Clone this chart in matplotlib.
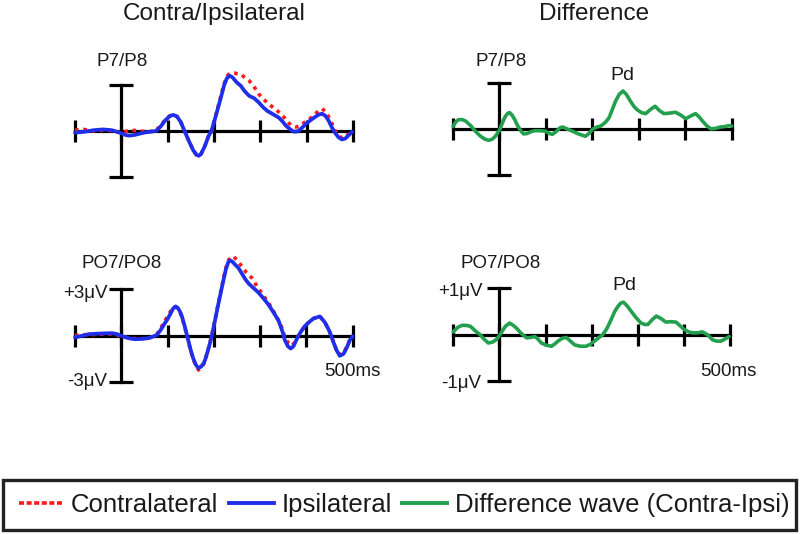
import matplotlib
matplotlib.use("Agg")
import matplotlib.pyplot as plt
from matplotlib.lines import Line2D
from matplotlib.patches import Rectangle

plt.rcParams['font.family'] = ['Liberation Sans', 'DejaVu Sans']

# ---------------- data (ms, microvolts) ----------------
tick_ms = [-100, 0, 100, 200, 300, 400, 500]

# P7/P8 ipsilateral
p7_ipsi_t = [-100, -90, -80, -70, -60, -50, -40, -30, -20, -10, 0, 8, 15, 23, 30, 40, 50, 62, 75, 85, 95,
             105, 112, 120, 128, 135, 145, 155, 162, 167, 172, 180, 188, 195, 205, 215, 222, 228, 234, 240,
             248, 258, 266, 276, 287, 297, 306, 315, 327, 340, 348, 355, 362, 368, 373, 380, 388, 397, 406,
             415, 425, 433, 440, 447, 455, 462, 469, 476, 483, 490, 498]
p7_ipsi_v = [-0.1, -0.08, -0.05, 0.0, 0.05, 0.08, 0.1, 0.08, 0.05, -0.05, -0.15, -0.25, -0.3, -0.28, -0.25,
             -0.17, -0.1, -0.05, 0.0, 0.3, 0.7, 0.98, 1.05, 0.95, 0.6, 0.1, -0.6, -1.25, -1.55, -1.62, -1.5,
             -1.0, -0.35, 0.05, 1.1, 2.2, 3.0, 3.45, 3.6, 3.5, 3.2, 2.94, 2.6, 2.29, 2.13, 1.85, 1.55, 1.31,
             1.1, 0.87, 0.62, 0.35, 0.17, 0.03, -0.05, -0.03, 0.15, 0.42, 0.65, 0.85, 1.05, 1.13, 1.0, 0.7,
             0.2, -0.15, -0.42, -0.55, -0.5, -0.3, -0.05]
# P7/P8 contralateral
p7_contra_t = [-100, -90, -80, -70, -60, -50, -40, -30, -20, -10, 0, 10, 20, 30, 40, 50, 60, 68, 75, 85, 95,
               105, 112, 120, 128, 135, 145, 155, 162, 167, 172, 180, 188, 195, 205, 215, 222, 230, 237, 244,
               252, 258, 266, 276, 285, 297, 306, 315, 324, 333, 345, 355, 362, 369, 377, 385, 395, 405, 415,
               425, 433, 440, 447, 455, 462, 469, 476, 483, 490, 498]
p7_contra_v = [0.05, 0.1, 0.1, 0.05, 0.0, 0.02, 0.05, 0.05, 0.0, -0.05, -0.1, -0.02, 0.05, 0.03, 0.0, -0.03,
               -0.05, 0.0, 0.05, 0.35, 0.75, 1.0, 1.07, 0.95, 0.6, 0.1, -0.6, -1.25, -1.55, -1.62, -1.5, -1.0,
               -0.35, 0.05, 1.15, 2.3, 3.1, 3.65, 3.8, 3.78, 3.72, 3.7, 3.5, 3.27, 2.95, 2.4, 2.1, 1.85, 1.62,
               1.41, 1.1, 0.76, 0.5, 0.33, 0.26, 0.32, 0.55, 0.75, 1.0, 1.3, 1.45, 1.3, 0.95, 0.45, 0.0, -0.3,
               -0.45, -0.42, -0.2, 0.05]
# P7/P8 difference
p7_diff_t = [-100, -94, -88, -80, -73, -62, -52, -42, -32, -23, -15, -8, 0, 6, 12, 18, 22, 27, 33, 38, 45,
             52, 60, 68, 76, 88, 99, 107, 114, 122, 130, 136, 145, 157, 170, 185, 193, 200, 210, 218, 228,
             236, 243, 250, 258, 266, 273, 282, 290, 297, 306, 315, 325, 335, 344, 354, 366, 379, 390, 401,
             412, 422, 430, 437, 446, 455, 465, 476, 486, 494, 500]
p7_diff_v = [0.05, 0.15, 0.2, 0.2, 0.17, 0.07, -0.05, -0.15, -0.22, -0.25, -0.22, -0.15, -0.03, 0.12, 0.26,
             0.34, 0.35, 0.3, 0.2, 0.09, -0.03, -0.11, -0.1, -0.06, -0.04, -0.04, -0.05, -0.1, -0.12, -0.06,
             0.02, 0.04, 0.0, -0.05, -0.11, -0.16, -0.1, -0.01, 0.04, 0.06, 0.14, 0.24, 0.42, 0.6, 0.75,
             0.82, 0.75, 0.6, 0.48, 0.41, 0.35, 0.33, 0.42, 0.49, 0.4, 0.33, 0.34, 0.36, 0.3, 0.22, 0.28,
             0.33, 0.26, 0.17, 0.07, 0.0, 0.01, 0.04, 0.05, 0.07, 0.06]

# PO7/PO8 ipsilateral
po7_ipsi_t = [-100, -85, -70, -50, -35, -20, -10, -2, 10, 20, 30, 45, 59, 68, 77, 85, 92, 99, 106, 112, 117,
              122, 127, 131, 137, 143, 149, 155, 161, 167, 173, 178, 181, 187, 192, 196, 202, 208, 214, 220,
              226, 231, 235, 240, 246, 253, 260, 268, 275, 285, 296, 307, 318, 329, 340, 346, 350, 353, 360,
              366, 372, 378, 386, 396, 405, 415, 429, 440, 450, 458, 465, 472, 480, 487, 494, 500]
po7_ipsi_v = [-0.13, -0.02, 0.09, 0.12, 0.14, 0.15, 0.1, 0.0, -0.12, -0.2, -0.24, -0.22, -0.17, -0.08, 0.04,
              0.35, 0.7, 1.02, 1.4, 1.75, 1.89, 1.8, 1.55, 1.24, 0.6, -0.1, -0.83, -1.45, -1.9, -2.13, -2.0,
              -1.8, -1.59, -1.0, -0.45, 0.04, 0.9, 1.8, 2.65, 3.5, 4.3, 4.75, 4.87, 4.8, 4.6, 4.39, 4.05,
              3.65, 3.38, 3.1, 2.8, 2.42, 2.0, 1.5, 0.95, 0.45, 0.1, -0.28, -0.7, -0.85, -0.7, -0.3, 0.15,
              0.59, 0.85, 1.1, 1.24, 0.85, 0.26, -0.4, -0.95, -1.32, -1.2, -0.8, -0.3, -0.05]
# PO7/PO8 contralateral
po7_contra_t = [-100, -85, -70, -50, -35, -20, -10, -2, 10, 20, 30, 45, 59, 68, 77, 85, 92, 99, 106, 112,
                117, 122, 127, 131, 137, 143, 149, 155, 161, 167, 173, 178, 181, 187, 192, 196, 202, 208, 214,
                220, 226, 232, 238, 242, 250, 260, 270, 282, 292, 303, 314, 325, 334, 343, 348, 353, 360, 368,
                375, 382, 389, 396, 405, 415, 429, 440, 450, 458, 465, 472, 480, 487, 494, 500]
po7_contra_v = [0.0, 0.05, 0.05, 0.08, 0.1, 0.1, 0.05, -0.05, -0.12, -0.18, -0.2, -0.2, -0.2, -0.05, 0.1,
                0.45, 0.85, 1.2, 1.55, 1.8, 1.85, 1.75, 1.5, 1.2, 0.55, -0.15, -0.9, -1.5, -1.95, -2.24,
                -2.1, -1.85, -1.6, -1.0, -0.4, 0.1, 0.95, 1.85, 2.7, 3.6, 4.4, 4.9, 5.1, 5.15, 4.9, 4.5, 4.1,
                3.74, 3.25, 2.77, 2.3, 1.79, 1.3, 0.81, 0.4, -0.06, -0.45, -0.67, -0.45, -0.06, 0.3, 0.59,
                0.85, 1.1, 1.24, 0.85, 0.26, -0.4, -0.95, -1.25, -1.15, -0.75, -0.25, 0.0]
# PO7/PO8 difference
po7_diff_t = [-100, -90, -81, -72, -63, -52, -42, -33, -24, -15, -7, 0, 5, 13, 22, 30, 37, 48, 59, 68, 77,
              84, 91, 102, 113, 120, 127, 136, 145, 154, 163, 175, 188, 197, 206, 215, 224, 233, 242, 250,
              257, 263, 269, 277, 286, 296, 307, 315, 322, 331, 340, 350, 361, 372, 383, 392, 401, 410, 419,
              430, 440, 451, 462, 471, 480, 490, 498]
po7_diff_v = [0.06, 0.16, 0.2, 0.2, 0.18, 0.08, 0.0, -0.1, -0.18, -0.16, -0.11, -0.02, 0.06, 0.18, 0.25, 0.2,
              0.14, 0.02, -0.07, -0.06, -0.04, -0.1, -0.18, -0.23, -0.25, -0.2, -0.14, -0.08, -0.06, -0.14,
              -0.22, -0.25, -0.25, -0.21, -0.14, -0.07, 0.0, 0.13, 0.32, 0.5, 0.61, 0.68, 0.7, 0.62, 0.5,
              0.37, 0.25, 0.22, 0.22, 0.32, 0.4, 0.35, 0.27, 0.28, 0.27, 0.19, 0.11, 0.06, 0.04, 0.04, 0.06,
              0.0, -0.11, -0.14, -0.14, -0.09, -0.04]

legend_labels = ["Contralateral", "Ipsilateral", "Difference wave (Contra-Ipsi)"]

RED = '#ff1a1a'
BLUE = '#1f2ee8'
GREEN = '#22a04e'
AX = '#000000'

W, H = 800, 534
fig = plt.figure(figsize=(8, 5.34), dpi=100)
fig.patch.set_facecolor('white')


def make_ax(x0, x1, ytop, ybot, scale):
    ax = fig.add_axes([x0 / W, 1 - ybot / H, (x1 - x0) / W, (ybot - ytop) / H])
    ax.set_xlim(-100, 500)
    ax.set_ylim(-scale, scale)
    ax.axis('off')
    ax.plot([-100, 500], [0, 0], color=AX, lw=2.3, clip_on=False, zorder=2)
    ax.plot(tick_ms, [0] * len(tick_ms), ls='', marker='|', ms=16, mew=2.3, color=AX,
            clip_on=False, zorder=2)
    ax.plot([0, 0], [-scale, scale], color=AX, lw=2.3, clip_on=False, zorder=2)
    ax.plot([0, 0], [-scale, scale], ls='', marker='_', ms=17, mew=2.3, color=AX,
            clip_on=False, zorder=2)
    return ax


ax_tl = make_ax(75, 353, 85, 177, 3)
ax_tr = make_ax(453, 731.7, 82.7, 175, 1)
ax_bl = make_ax(75, 352.7, 289.3, 381.7, 3)
ax_br = make_ax(453.3, 730, 288.3, 381, 1)

kw_red = dict(color=RED, lw=2.6, ls=(0, (1, 1.3)), clip_on=False, zorder=3)
kw_blue = dict(color=BLUE, lw=2.7, clip_on=False, zorder=4, solid_capstyle='round',
               solid_joinstyle='round')
kw_green = dict(color=GREEN, lw=2.6, clip_on=False, zorder=4, solid_capstyle='round',
                solid_joinstyle='round')

ax_tl.plot(p7_contra_t, p7_contra_v, **kw_red)
ax_tl.plot(p7_ipsi_t, p7_ipsi_v, **kw_blue)
ax_tr.plot(p7_diff_t, p7_diff_v, **kw_green)
ax_bl.plot(po7_contra_t, po7_contra_v, **kw_red)
ax_bl.plot(po7_ipsi_t, po7_ipsi_v, **kw_blue)
ax_br.plot(po7_diff_t, po7_diff_v, **kw_green)


def ftext(x, y, s, size, ha='center', va='baseline'):
    fig.text(x / W, 1 - y / H, s, fontsize=size, ha=ha, va=va, color='#1a1a1a')


ftext(214.5, 20, "Contra/Ipsilateral", 17.5)
ftext(594, 19.5, "Difference", 17.5)
ftext(122.5, 66.5, "P7/P8", 13.5)
ftext(501.5, 66, "P7/P8", 13.5)
ftext(122, 268.5, "PO7/PO8", 13.5)
ftext(501, 268.5, "PO7/PO8", 13.5)
ftext(622.5, 80.5, "Pd", 14)
ftext(624.5, 290, "Pd", 14)
ftext(108, 297.5, "+3\u03bcV", 13.5, ha='right')
ftext(107, 386.5, "-3\u03bcV", 13.5, ha='right')
ftext(483, 296.5, "+1\u03bcV", 13.5, ha='right')
ftext(481, 387.5, "-1\u03bcV", 13.5, ha='right')
ftext(352.5, 375.5, "500ms", 13.5)
ftext(728, 375.5, "500ms", 13.5)

# legend frame
fig.patches.append(Rectangle((2.5 / W, 1 - 530 / H), 793.5 / W, 50 / H, transform=fig.transFigure,
                             facecolor='white', edgecolor='#222222', lw=2.4, zorder=0))

handles = [Line2D([], [], color=RED, lw=2.6, ls=(0, (1.4, 0.7))),
           Line2D([], [], color=BLUE, lw=2.8),
           Line2D([], [], color=GREEN, lw=2.8)]
leg = fig.legend(handles, legend_labels, loc='center', bbox_to_anchor=(404 / W, 1 - 505 / H),
                 ncol=3, fontsize=18.5, frameon=False, handlelength=1.75,
                 handletextpad=0.3, columnspacing=0.4, borderpad=0.2, borderaxespad=0)
for t in leg.get_texts():
    t.set_color('#1a1a1a')

fig.savefig("out.png", dpi=100, facecolor='white')
